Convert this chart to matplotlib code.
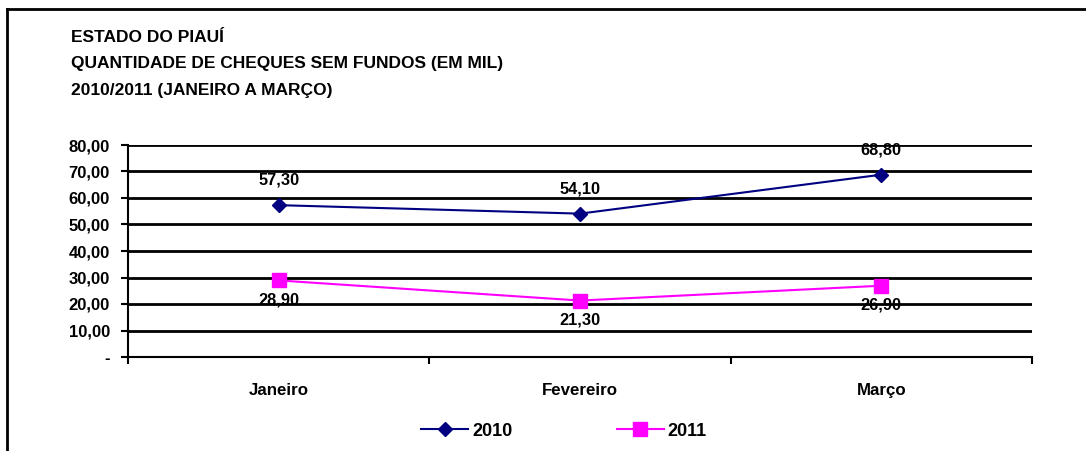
import matplotlib
matplotlib.use("Agg")
import matplotlib.pyplot as plt
from matplotlib.lines import Line2D

# data
months = ["Janeiro", "Fevereiro", "Março"]
values_2010 = [57.30, 54.10, 68.80]
values_2011 = [28.90, 21.30, 26.90]
y_ticks = [0, 10, 20, 30, 40, 50, 60, 70, 80]

title_lines = [
    "ESTADO DO PIAUÍ",
    "QUANTIDADE DE CHEQUES SEM FUNDOS (EM MIL)",
    "2010/2011 (JANEIRO A MARÇO)",
]

NAVY = "#000080"
MAGENTA = "#FF00FF"

plt.rcParams.update({
    "font.family": ["Liberation Sans", "DejaVu Sans"],
    "font.weight": "bold",
    "font.size": 12,
})


def fmt(v):
    if v == 0:
        return "-"
    return f"{v:.2f}".replace(".", ",")


fig = plt.figure(figsize=(10.86, 4.51), dpi=100)
ax = fig.add_axes([128 / 1086, 1 - 357 / 451, (1032 - 128) / 1086, (357 - 145) / 451])

x = list(range(len(months)))
ax.plot(x, values_2010, color=NAVY, lw=1.5, marker="D", ms=7, mfc=NAVY, mec=NAVY,
        label="2010", zorder=3, clip_on=False)
ax.plot(x, values_2011, color=MAGENTA, lw=1.5, marker="s", ms=10, mfc=MAGENTA, mec=MAGENTA,
        label="2011", zorder=3, clip_on=False)

for xi, v in zip(x, values_2010):
    ax.annotate(fmt(v), (xi, v), xytext=(0, 18), textcoords="offset points",
                ha="center", va="center", fontsize=11.8, fontweight="bold")
for xi, v in zip(x, values_2011):
    ax.annotate(fmt(v), (xi, v), xytext=(0, -14), textcoords="offset points",
                ha="center", va="center", fontsize=11.8, fontweight="bold")

ax.set_xlim(-0.5, len(months) - 0.5)
ax.set_ylim(0, 80)
ax.set_yticks(y_ticks)
ax.set_yticklabels([fmt(v) for v in y_ticks], fontsize=12)
ax.set_xticks(x)
ax.set_xticklabels(months, fontsize=12.2)
ax.set_xticks([i - 0.5 for i in range(len(months) + 1)], minor=True)
ax.tick_params(axis="x", which="major", length=0, pad=19)
ax.tick_params(axis="x", which="minor", length=5, width=1.5, direction="out")
ax.tick_params(axis="y", length=5, width=1.5, direction="out", pad=8)

for v in y_ticks[1:]:
    ax.axhline(v, color="black", lw=2, zorder=1)

for side in ["top", "right"]:
    ax.spines[side].set_visible(False)
ax.spines["left"].set_linewidth(1.5)
ax.spines["bottom"].set_linewidth(1.5)

# title block
for i, line in enumerate(title_lines):
    fig.text(71 / 1086, 1 - (37 + i * 26.5) / 451, line, ha="left", va="center",
             fontsize=12.5, fontweight="bold")

# legend
handles = [
    Line2D([], [], color=NAVY, lw=1.5, marker="D", ms=7, mfc=NAVY, mec=NAVY),
    Line2D([], [], color=MAGENTA, lw=1.5, marker="s", ms=10, mfc=MAGENTA, mec=MAGENTA),
]
fig.legend(handles, ["2010", "2011"], loc="center", ncol=2, frameon=False,
           bbox_to_anchor=(564 / 1086, 1 - 431 / 451), fontsize=13, handlelength=2.6,
           handletextpad=0.2, columnspacing=5.8)

# outer frame (top and left edges only visible)
fig.add_artist(Line2D([7 / 1086, 7 / 1086], [0, 1 - 9 / 451], transform=fig.transFigure,
                      color="black", lw=2))
fig.add_artist(Line2D([7 / 1086, 1], [1 - 9 / 451, 1 - 9 / 451], transform=fig.transFigure,
                      color="black", lw=2))

fig.savefig("out.png", dpi=100)
